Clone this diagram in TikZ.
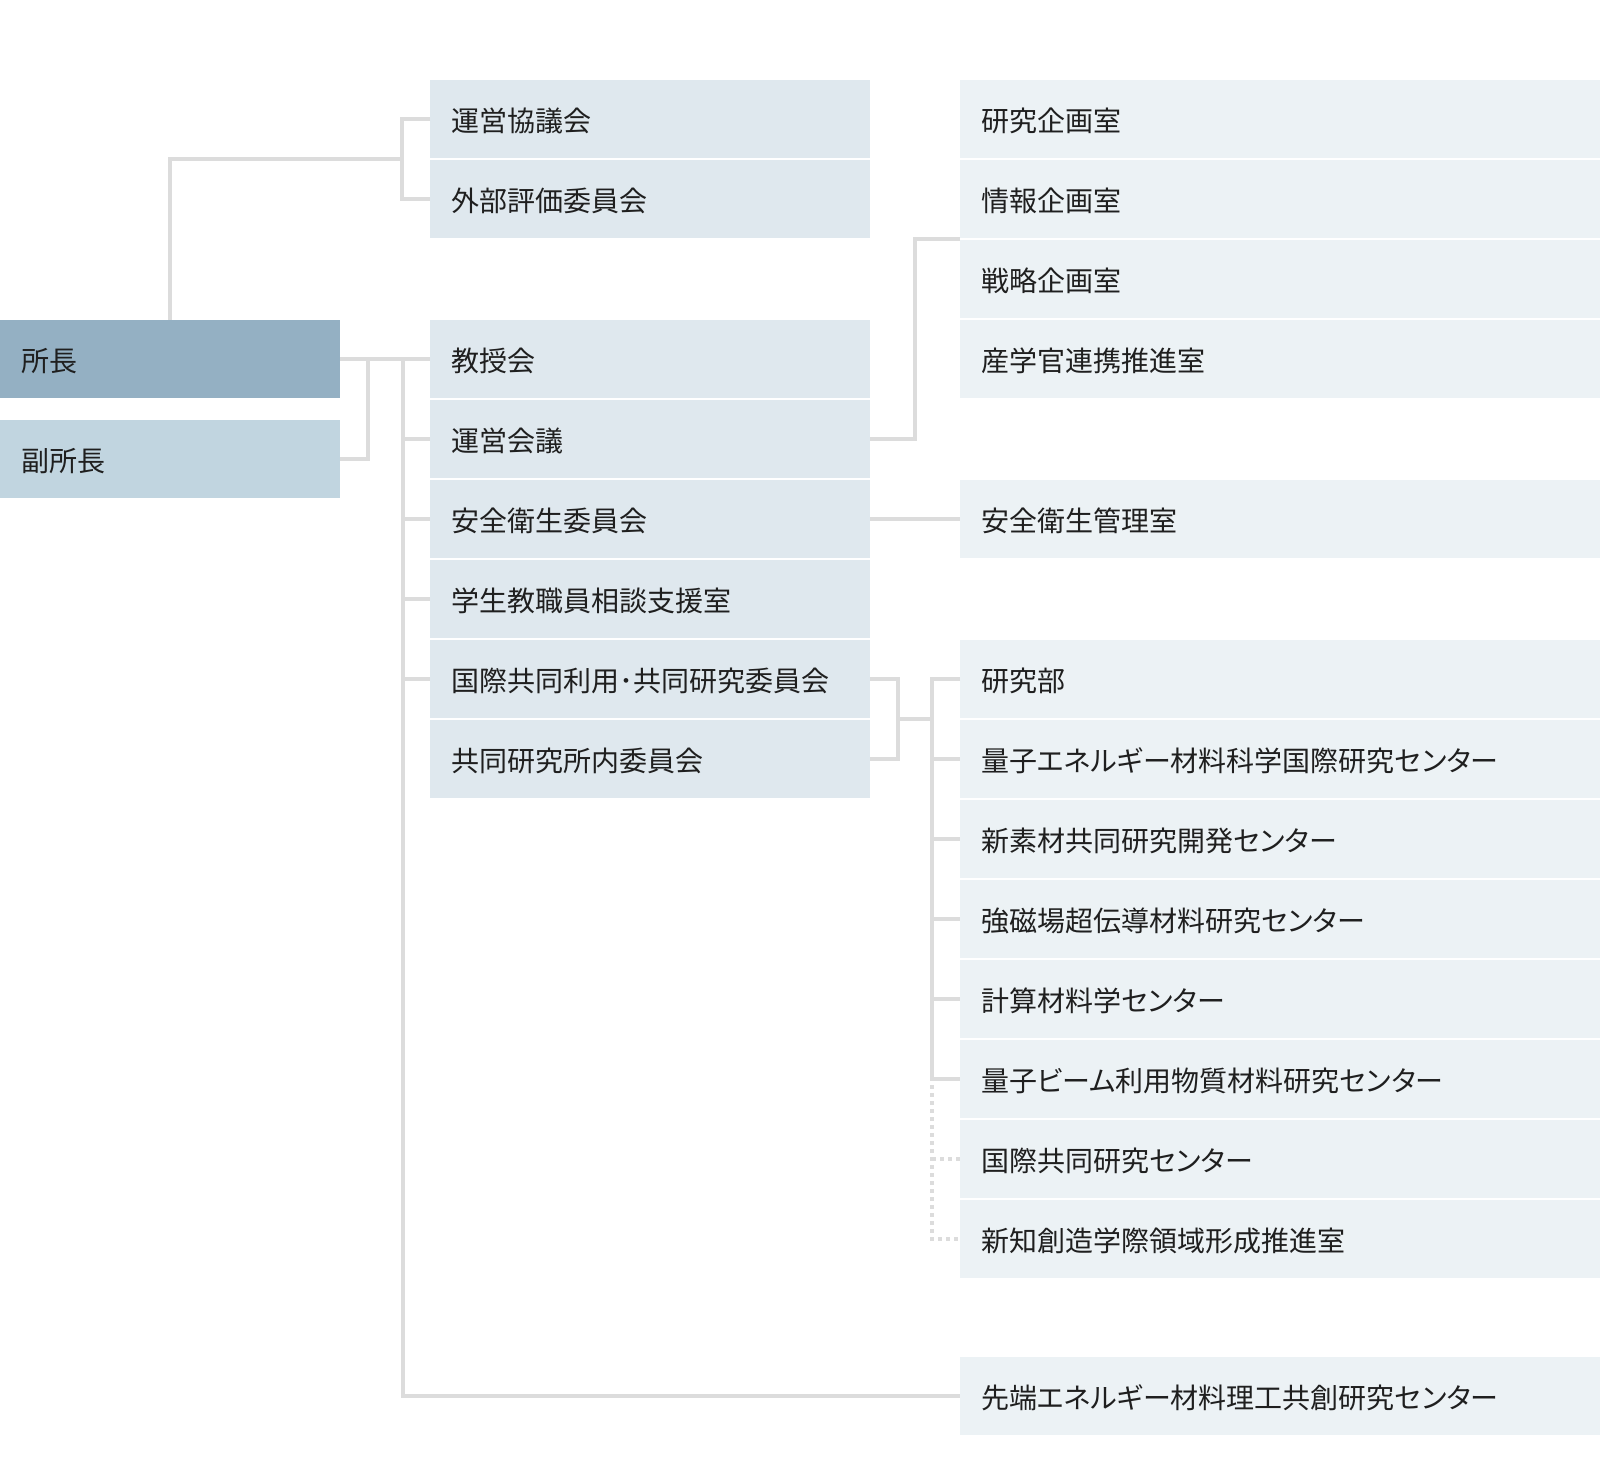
\documentclass[tikz,border=0pt]{standalone}
\usepackage{fontspec}
\setmainfont[RawFeature=+palt]{Noto Sans CJK JP}
\usepackage{xcolor}
\usepackage{tikz}
\usetikzlibrary{calc}

\definecolor{headdark}{HTML}{94B0C3}
\definecolor{headlight}{HTML}{C1D5E0}
\definecolor{midbox}{HTML}{DFE8EE}
\definecolor{rightbox}{HTML}{ECF2F5}
\definecolor{linegray}{HTML}{DCDCDC}

\begin{document}
\begin{tikzpicture}[x=1pt,y=-1pt,
  box/.style={anchor=north west,rectangle,inner xsep=21pt,inner ysep=0pt,
    minimum height=78pt,align=left,text=black!88,
    text height=28.5pt,text depth=3.5pt,
    font=\fontsize{28}{32}\selectfont},
  boxA/.style={box,text width=298pt},
  boxB/.style={box,fill=midbox,text width=398pt},
  boxC/.style={box,fill=rightbox,text width=598pt},
  conn/.style={draw=linegray,line width=3.5pt},
  dotconn/.style={conn,dash pattern=on 3.5pt off 4.5pt}]
\useasboundingbox (0,0) rectangle (1600,1458);

% director
\node[boxA,fill=headdark] (shocho) at (0,320) {所長};
\node[boxA,fill=headlight] (fuku) at (0,420) {副所長};

% committees
\node[boxB] (uneikyo) at (430,80) {運営協議会};
\node[boxB] (gaibu) at (430,160) {外部評価委員会};
\node[boxB] (kyoju) at (430,320) {教授会};
\node[boxB] (uneikaigi) at (430,400) {運営会議};
\node[boxB] (anzen) at (430,480) {安全衛生委員会};
\node[boxB] (gakusei) at (430,560) {学生教職員相談支援室};
\node[boxB] (kokusai) at (430,640) {国際共同利用･共同研究委員会};
\node[boxB] (kyodo) at (430,720) {共同研究所内委員会};

% offices
\node[boxC] (kenkikaku) at (960,80) {研究企画室};
\node[boxC] (johokikaku) at (960,160) {情報企画室};
\node[boxC] (senryaku) at (960,240) {戦略企画室};
\node[boxC] (sangaku) at (960,320) {産学官連携推進室};
\node[boxC] (anzenkanri) at (960,480) {安全衛生管理室};

% research units
\node[boxC] (kenkyubu) at (960,640) {研究部};
\node[boxC] (ryoshi) at (960,720) {量子エネルギー材料科学国際研究センター};
\node[boxC] (shinsozai) at (960,800) {新素材共同研究開発センター};
\node[boxC] (kyojiba) at (960,880) {強磁場超伝導材料研究センター};
\node[boxC] (keisan) at (960,960) {計算材料学センター};
\node[boxC] (beam) at (960,1040) {量子ビーム利用物質材料研究センター};
\node[boxC] (kokusaikyodo) at (960,1120) {国際共同研究センター};
\node[boxC] (shinchi) at (960,1200) {新知創造学際領域形成推進室};
\node[boxC] (sentan) at (960,1357) {先端エネルギー材料理工共創研究センター};

% junctions
\coordinate (topjct) at (402,159);
\coordinate (fukujct) at (368,359);
\coordinate (spine) at (403,359);
\coordinate (kaigijct) at (915,239);
\coordinate (kyojct) at (898,719);
\coordinate (bujct) at (932,719);

% connectors
\draw[conn] (shocho.north) |- (topjct);
\draw[conn] (uneikyo.west) -| (topjct) |- (gaibu.west);
\draw[conn] (shocho.east) -- (kyoju.west);
\draw[conn] (fuku.east) -| (fukujct);
\draw[conn] (spine) |- (sentan.west);
\foreach \n in {uneikaigi,anzen,gakusei,kokusai}
  \draw[conn] (spine |- \n.west) -- (\n.west);
\draw[conn] (uneikaigi.east) -| (kaigijct) -- (kaigijct -| senryaku.west);
\draw[conn] (anzen.east) -- (anzenkanri.west);
\draw[conn] (kokusai.east) -| (kyojct) |- (kyodo.east);
\draw[conn] (kyojct) -- (bujct);
\draw[conn] (kenkyubu.west) -| (bujct) |- (beam.west);
\foreach \n in {ryoshi,shinsozai,kyojiba,keisan}
  \draw[conn] (bujct |- \n.west) -- (\n.west);
\draw[dotconn] ($(bujct |- beam.west)+(0,6)$) |- (shinchi.west);
\draw[dotconn] (bujct |- kokusaikyodo.west) -- (kokusaikyodo.west);
\end{tikzpicture}
\end{document}
